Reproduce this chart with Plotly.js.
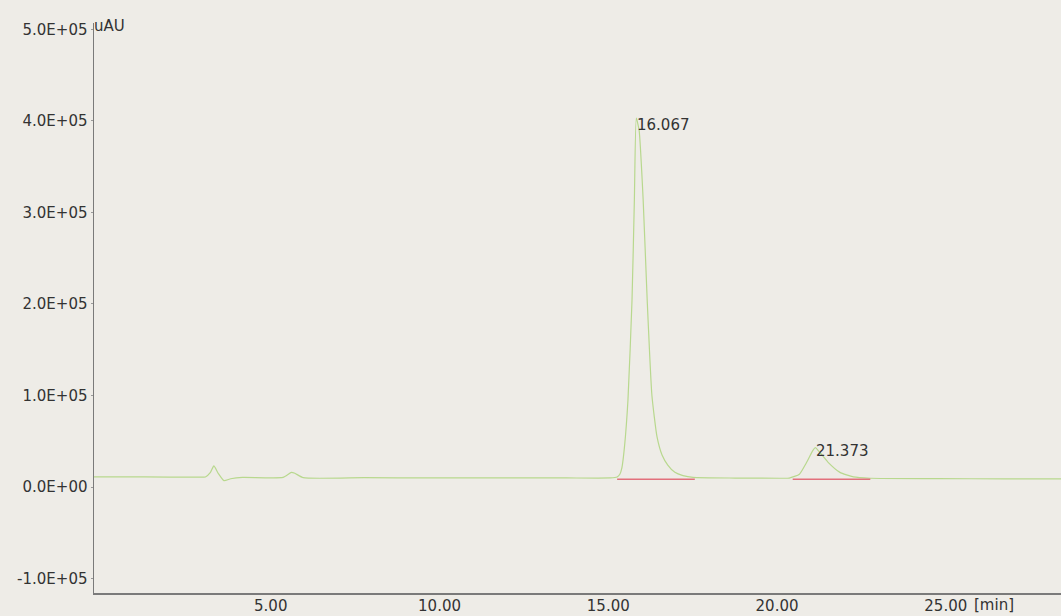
<!DOCTYPE html>
<html>
<head>
<meta charset="utf-8">
<script src="https://cdn.plot.ly/plotly-3.0.1.min.js"></script>
<style>html,body{margin:0;padding:0;background:#eeece7;}</style>
</head>
<body>
<div id="chart" style="width:1061px;height:616px;"></div>
<script>
// Chromatogram signal (time in min, signal in uAU)
const timeMin = [0, 1.5, 3.0, 3.3, 3.45, 3.55, 3.68, 3.85, 4.05, 4.4, 5.6, 5.85, 5.95, 6.2, 8, 10, 12, 14, 15.3,
  15.5, 15.58, 15.64, 15.72, 15.82, 15.94, 16.01, 16.067, 16.15, 16.27, 16.39, 16.53, 16.68, 16.83, 17.0, 17.21, 17.45, 17.75,
  19, 20.3, 20.6, 20.9, 21.1, 21.3, 21.373, 21.5, 21.75, 22.1, 22.5, 23.0, 25, 27, 28.65];
const signal = [11000, 11000, 10800, 11000, 16000, 23000, 15000, 7000, 9000, 10500, 10500, 16000, 15000, 10200, 10200, 10000, 10000, 9900, 9900,
  11000, 14000, 21000, 45000, 95000, 204000, 314000, 403000, 390000, 314000, 204000, 100000, 55000, 35000, 24000, 16000, 12500, 10500,
  9800, 9600, 9800, 14000, 26000, 40000, 43000, 38000, 27000, 16000, 11000, 9600, 9200, 8900, 8800];

// Integration baselines
const base1Time = [15.5, 17.8];
const base1Val = [8600, 8400];
const base2Time = [20.7, 23.0];
const base2Val = [8500, 8400];

// Peak labels
const peakTimes = [16.067, 21.373];
const peakLabelY = [396000, 39000];
const peakLabels = ["16.067", "21.373"];

// Axis ticks
const xTickVals = [5, 10, 15, 20, 25];
const xTickText = ["5.00", "10.00", "15.00", "20.00", "25.00"];
const yTickVals = [-100000, 0, 100000, 200000, 300000, 400000, 500000];
const yTickText = ["-1.0E+05", "0.0E+00", "1.0E+05", "2.0E+05", "3.0E+05", "4.0E+05", "5.0E+05"];

const font = {family: "DejaVu Sans, sans-serif", size: 15, color: "#333333"};

const traces = [
  {x: timeMin, y: signal, type: "scatter", mode: "lines", line: {color: "#b8d88e", width: 1.2, shape: "spline", smoothing: 0.5}, hoverinfo: "skip"},
  {x: base1Time, y: base1Val, type: "scatter", mode: "lines", line: {color: "#e2707c", width: 1.5}, hoverinfo: "skip"},
  {x: base2Time, y: base2Val, type: "scatter", mode: "lines", line: {color: "#e2707c", width: 1.5}, hoverinfo: "skip"}
];

const annotations = peakTimes.map((t, i) => ({
  x: t, y: peakLabelY[i], xref: "x", yref: "y", text: peakLabels[i],
  showarrow: false, xanchor: "left", yanchor: "middle", xshift: -1, font: font
}));
annotations.push({x: 0, y: 500000, xref: "paper", yref: "y", text: "uAU", showarrow: false,
  xanchor: "left", yanchor: "middle", xshift: -2, yshift: 3, font: font});
annotations.push({x: 25, y: 0, xref: "x", yref: "paper", text: "[min]", showarrow: false,
  xanchor: "left", yanchor: "top", xshift: 34, yshift: -1, font: font});

const layout = {
  width: 1061, height: 616,
  margin: {l: 94, r: 0, t: 23, b: 23, pad: 0},
  paper_bgcolor: "#eeece7", plot_bgcolor: "#eeece7",
  showlegend: false,
  font: font,
  xaxis: {
    range: [0, 28.65], tickvals: xTickVals, ticktext: xTickText,
    showgrid: false, zeroline: false, showline: true, linecolor: "#7a7a7a", linewidth: 1.5,
    ticks: "", ticklabelshift: 8, ticklabelstandoff: -2, tickfont: font, fixedrange: true
  },
  yaxis: {
    range: [-115800, 507000], tickvals: yTickVals, ticktext: yTickText,
    showgrid: false, zeroline: false, showline: true, linecolor: "#7a7a7a", linewidth: 1.5,
    ticks: "outside", ticklen: 2, tickcolor: "#999", ticklabelstandoff: 0, tickfont: font, fixedrange: true
  },
  annotations: annotations
};

Plotly.newPlot("chart", traces, layout, {displayModeBar: false, staticPlot: true});
</script>
</body>
</html>
